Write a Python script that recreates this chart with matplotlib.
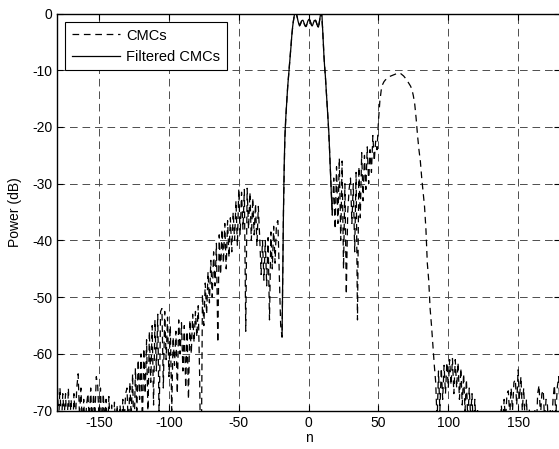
import numpy as np
import matplotlib.pyplot as plt

# CMCs, n = -180 ... -20 (step 1)
cmc_left = [
    -64, -72, -66, -73, -67, -71, -67, -74, -66, -72,
    -68, -75, -67, -72, -66, -63.5, -71, -66, -73, -68,
    -74, -69, -67, -72, -66, -73, -67, -71, -64, -65.5,
    -72, -66, -74, -67, -72, -68, -75, -67.5, -73, -69,
    -76, -68.5, -74, -69, -78, -69, -73, -68, -72, -67,
    -66, -74, -65, -71, -63.5, -76, -62.5, -70, -61, -68,
    -60, -73, -59, -67, -57.5, -71, -56, -65, -55, -69,
    -54, -63, -53, -72, -52.5, -52, -66, -52.5, -61, -53.5,
    -64, -55, -70, -57, -62, -56, -67, -54, -60, -54.5,
    -63, -55, -66, -56, -68, -54, -60, -53, -58, -52.5,
    -57, -51.5, -64, -85, -49.5, -55, -47.5, -53, -45.5, -51,
    -43.5, -50, -42, -48, -40.5, -58, -39, -46, -38, -44,
    -37, -45, -36.5, -43, -36, -42, -35, -40, -33, -41,
    -31, -39, -31.5, -38, -31, -56, -30.8, -38, -31.5, -40,
    -32.5, -39, -33.5, -41, -34, -39.5, -46, -40, -47, -40,
    -48, -39.5, -54, -38.5, -45, -37.5, -44, -37, -36.5, -46,
    -55,
]

# Filtered CMCs, n = -19 ... 17 (step 0.5); CMCs follow it on the main lobe
filtered = [
    -57, -46, -35, -27, -22, -19, -17, -15, -13, -11.5,
    -10, -8.5, -7, -5.5, -3.8, -2.5, -1.5, -0.8, 0.1, 0.4,
    0.2, -0.3, -0.8, -1.4, -1.8, -2.2, -2.0, -1.6, -1.3, -1.2,
    -1.2, -1.5, -1.9, -2.2, -2.3, -2.2, -1.7, -1.3, -1.1, -1.0,
    -1.2, -1.6, -2.0, -2.2, -2.0, -1.6, -1.3, -1.2, -1.2, -1.5,
    -1.9, -2.3, -2.4, -1.9, -1.0, -0.2, 0.3, 0.1, -2.5, -5.0,
    -7.5, -9.5, -11, -13, -15, -17, -19, -21, -24, -27,
    -30, -33, -35.5,
]

# CMCs, n = 18 ... 180 (step 1)
cmc_right = [
    -29, -38, -27, -37, -25.5, -40, -26, -45, -30, -49.5,
    -35, -31, -29, -37, -30, -42, -28, -54, -27, -36,
    -24.5, -33, -25, -31, -23.5, -30, -24, -28, -21.5, -26,
    -22.5, -24, -19,
    -15.5, -13.5, -12.5, -12, -11.7, -11.5, -11.3, -11.1, -11, -10.9,
    -10.8, -10.7, -10.6, -10.6, -10.5, -10.6, -10.8, -11, -11.3, -11.7,
    -12, -12.4, -12.8, -13.4, -14.5, -16, -18.5, -21.5, -24, -26,
    -29, -31.5, -34, -38, -44, -47, -52, -55, -58.5, -62,
    -65, -72, -63, -70, -62.5, -68, -62, -67, -61.5, -66,
    -61, -65.5, -60.8, -67, -61, -66, -61.5, -68, -62.5, -69,
    -63.5, -70, -64.5, -72, -66, -71, -67, -74, -68, -73,
    -69.5, -75,
    -78, -72, -80, -74, -79, -73, -81, -75, -78, -73,
    -80, -72, -76, -71, -74, -69, -73, -68, -72, -67,
    -66.5, -71, -66, -70, -65, -64.5, -69, -62.8, -68, -64,
    -70, -66, -72, -68, -74, -69.5, -76, -71, -78, -70,
    -74, -67, -65.5, -71, -67, -66.4, -72, -68, -69, -75,
    -70, -73, -68, -65.5, -71, -66, -64, -70,
]

n_filt = np.arange(-19, 17.5, 0.5)
n_cmc = np.arange(-180, 181)
cmc = np.array(cmc_left + filtered[::2] + cmc_right)

plt.rcParams['font.family'] = ['Liberation Sans', 'DejaVu Sans']
plt.rcParams['font.size'] = 10
plt.rcParams['axes.unicode_minus'] = False
plt.rcParams['lines.scale_dashes'] = False

fig = plt.figure(figsize=(5.59, 4.49), dpi=100)
ax = fig.add_axes([0.1023, 0.0853, 0.8995, 0.8846])

ax.plot(n_cmc, cmc, color='k', lw=0.9, dashes=(4.8, 3.4), label='CMCs')
ax.plot(n_filt, filtered, color='k', lw=0.9, label='Filtered CMCs')

ax.set_xlim(-180, 180)
ax.set_ylim(-70, 0)
ax.set_xticks(range(-150, 151, 50))
ax.set_yticks(range(-70, 1, 10))
ax.grid(True, color='0.3', lw=0.7, linestyle=(0, (5.5, 3.5)))
ax.tick_params(direction='in', length=4, top=True, right=True, labelsize=10)
for s in ax.spines.values():
    s.set_linewidth(1.0)

ax.set_xlabel('n', labelpad=1)
ax.set_ylabel('Power (dB)', labelpad=7)

leg = ax.legend(loc='upper left', bbox_to_anchor=(0.0159, 0.9786), borderaxespad=0,
                fancybox=False, edgecolor='k', framealpha=1, handlelength=3.3,
                handletextpad=0.45, borderpad=0.45, labelspacing=0.5, fontsize=10.5)
leg.get_frame().set_linewidth(0.8)

fig.savefig('out.png', dpi=100)
